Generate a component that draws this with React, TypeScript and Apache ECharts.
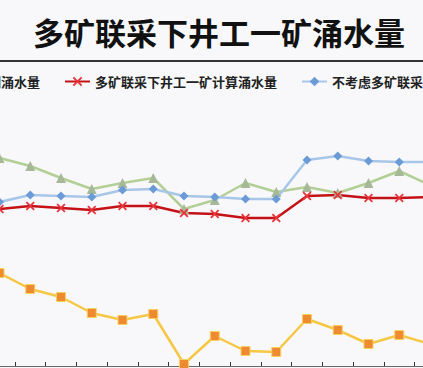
import React, { useEffect, useRef } from "react";
import * as echarts from "echarts";

const categories = ["1", "2", "3", "4", "5", "6", "7", "8", "9", "10", "11", "12", "13", "14", "15"];
const measured = [208, 200, 188, 177, 183, 188, 157, 166, 183, 174, 179, 173, 183, 195, 181];
const calculated = [157, 160, 158, 156, 160, 160, 153, 152, 148, 148, 170, 171, 168, 168, 169];
const withoutJoint = [164, 171, 170, 169, 176, 177, 170, 169, 167, 167, 206, 210, 205, 204, 204];
const otherMine = [93, 77, 69, 53, 46, 52, 2, 30, 15, 14, 47, 36, 22, 31, 22];

const names = ["实测涌水量", "多矿联采下井工一矿计算涌水量", "不考虑多矿联采井工一矿涌水量", "多矿联采下二矿计算涌水量"];

const OFFSET = 100;
const W = 1300;
const H = 368;

const xPath = "path://M0,1.4L1.4,0L5,3.6L8.6,0L10,1.4L6.4,5L10,8.6L8.6,10L5,6.4L1.4,10L0,8.6L3.6,5Z";

export default function App() {
  const ref = useRef<HTMLDivElement>(null);
  useEffect(() => {
    if (!ref.current) return;
    const chart = echarts.init(ref.current, null, { renderer: "svg" });
    const catW = 30.75;
    const gridLeft = OFFSET - 0.5 - catW / 2;
    const gridWidth = catW * categories.length;
    chart.setOption({
      animation: false,
      backgroundColor: "#f8f8fa",
      graphic: [
        {
          type: "text",
          x: OFFSET + 219,
          y: 31,
          style: {
            text: "多矿联采下井工一矿涌水量",
            font: 'bold 31px "Noto Sans CJK SC"',
            fill: "#111",
            align: "center",
            verticalAlign: "middle",
          },
        },
        {
          type: "rect",
          shape: { x: 0, y: 60, width: W, height: 2 },
          style: { fill: "#333" },
          z: 10,
        },
      ],
      legend: {
        left: 39,
        top: 70,
        width: 1200,
        itemWidth: 25,
        itemHeight: 12,
        itemGap: 24,
        data: names,
        textStyle: {
          fontFamily: "Noto Sans CJK SC",
          fontSize: 13,
          fontWeight: "bold",
          color: "#222",
        },
      },
      grid: {
        left: gridLeft,
        width: gridWidth,
        top: 66,
        bottom: 2,
        containLabel: false,
      },
      xAxis: {
        type: "category",
        data: categories,
        boundaryGap: true,
        axisLine: { show: true, lineStyle: { color: "#666", width: 1 } },
        axisTick: { show: true, length: 4, inside: true, lineStyle: { color: "#333" } },
        axisLabel: { show: false },
      },
      yAxis: {
        type: "value",
        min: 0,
        max: 300,
        show: false,
        splitLine: { show: false },
      },
      series: [
        {
          name: names[0],
          type: "line",
          data: measured,
          symbol: "triangle",
          symbolSize: 10,
          lineStyle: { color: "#b3cf96", width: 2.5 },
          itemStyle: { color: "#a6b898" },
        },
        {
          name: names[1],
          type: "line",
          data: calculated,
          symbol: xPath,
          symbolSize: 9,
          lineStyle: { color: "#c41216", width: 2.5 },
          itemStyle: { color: "#e8333a" },
        },
        {
          name: names[2],
          type: "line",
          data: withoutJoint,
          symbol: "diamond",
          symbolSize: 9,
          lineStyle: { color: "#a8c6e8", width: 2.5 },
          itemStyle: { color: "#6b9bd6" },
        },
        {
          name: names[3],
          type: "line",
          data: otherMine,
          symbol: "rect",
          symbolSize: 9,
          lineStyle: { color: "#f5c744", width: 2.5 },
          itemStyle: { color: "#ee8a30", borderColor: "#f8d060", borderWidth: 1 },
        },
      ],
    });
    return () => chart.dispose();
  }, []);
  return (
    <div style={{ position: "fixed", left: 0, top: 0, width: 423, height: H, overflow: "hidden", background: "#f8f8fa" }}>
      <div ref={ref} style={{ position: "absolute", left: -OFFSET, top: 0, width: W, height: H }} />
    </div>
  );
}
